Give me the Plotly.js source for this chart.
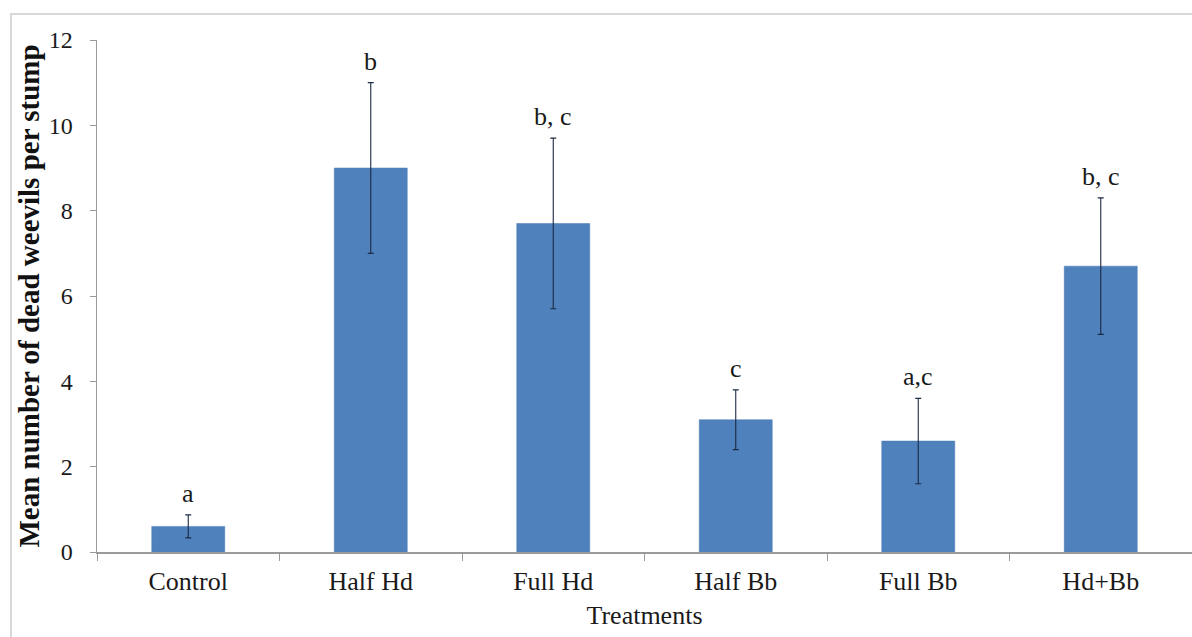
<!DOCTYPE html>
<html>
<head>
<meta charset="utf-8">
<script src="https://cdn.plot.ly/plotly-3.0.1.min.js"></script>
<style>
  html, body { margin: 0; padding: 0; background: #ffffff; }
  #wrap { position: relative; width: 1192px; height: 637px; overflow: hidden; }
  #chart { width: 1192px; height: 637px; }
  #frame { position: absolute; left: 10px; top: 13px; width: 1250px; height: 700px;
           border: 2px solid #d9d9d9; pointer-events: none; }
</style>
</head>
<body>
<div id="wrap">
  <div id="chart"></div>
  <div id="frame"></div>
</div>
<script>
const treatments = ['Control', 'Half Hd', 'Full Hd', 'Half Bb', 'Full Bb', 'Hd+Bb'];
const meanDead = [0.6, 9.0, 7.7, 3.1, 2.6, 6.7];
const errDead = [0.27, 2.0, 2.0, 0.7, 1.0, 1.6];
const groupLetters = ['a', 'b', 'b, c', 'c', 'a,c', 'b, c'];
const yTicks = [0, 2, 4, 6, 8, 10, 12];

const serif = '"Liberation Serif", "Times New Roman", serif';

const trace = {
  type: 'bar',
  x: treatments,
  y: meanDead,
  width: 0.4,
  marker: { color: '#4f81bd', line: { color: '#4a7ab5', width: 0.5 } },
  error_y: { type: 'data', array: errDead, visible: true, color: '#1c2a44', thickness: 1.1, width: 3 },
  hoverinfo: 'x+y'
};

const annotations = treatments.map((t, i) => ({
  x: t, y: meanDead[i] + errDead[i], xref: 'x', yref: 'y',
  text: groupLetters[i], showarrow: false, yanchor: 'bottom', yshift: 5,
  font: { family: serif, size: 26, color: '#1a1a1a' }
}));

const layout = {
  width: 1192, height: 637,
  margin: { l: 97, r: 0, t: 40, b: 85 },
  paper_bgcolor: '#ffffff', plot_bgcolor: '#ffffff',
  showlegend: false,
  bargap: 0.6,
  xaxis: {
    type: 'category',
    range: [-0.5, 5.5],
    showline: true, linecolor: '#9a9a9a', linewidth: 1.5,
    ticks: 'outside', tickson: 'boundaries', ticklen: 7, tickcolor: '#9a9a9a', tickwidth: 1,
    ticklabelstandoff: 5,
    showgrid: false, zeroline: false,
    tickfont: { family: serif, size: 26, color: '#1a1a1a' },
    title: { text: 'Treatments', font: { family: serif, size: 26, color: '#1a1a1a' }, standoff: 11 }
  },
  yaxis: {
    range: [0, 12],
    tickvals: yTicks,
    showline: true, linecolor: '#9a9a9a', linewidth: 1.5,
    ticks: 'outside', ticklen: 6, tickcolor: '#9a9a9a', tickwidth: 1,
    ticklabelstandoff: 12,
    showgrid: false, zeroline: false,
    tickfont: { family: serif, size: 24, color: '#1a1a1a' },
    title: { text: '<b>Mean number of dead weevils per stump</b>', font: { family: serif, size: 29, color: '#111111' }, standoff: 0 }
  },
  annotations: annotations
};

Plotly.newPlot('chart', [trace], layout, { staticPlot: true, displayModeBar: false });
</script>
</body>
</html>
